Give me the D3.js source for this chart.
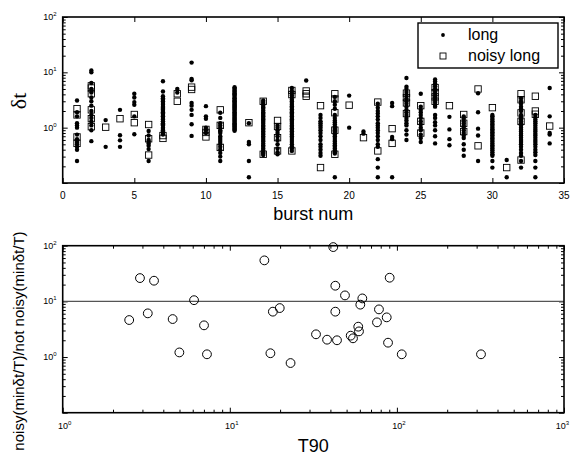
<!DOCTYPE html>
<html>
<head>
<meta charset="utf-8">
<script src="https://cdn.jsdelivr.net/npm/d3@7"></script>
<style>
  body { margin: 0; background: #fff; }
  svg { display: block; font-family: "Liberation Sans", Arial, sans-serif; }
</style>
</head>
<body>
<div id="chart"></div>
<script>
/* ── Top panel: δt per burst (index 0 = burst 1) ── */
const burstNums = d3.range(1, 35);

const longDt = [
  [3.1, 1.9, 1.6, 1.2, 1.1, 1.0, 0.75, 0.62, 0.55, 0.5, 0.45, 0.4, 0.25],
  [10.8, 10, 6.4, 5, 4.3, 3.5, 3.0, 2.5, 2.0, 1.7, 1.5, 1.3, 1.1, 0.9, 0.57],
  [1.37, 0.45],
  [2.1, 0.73, 0.59, 0.45],
  [4.1, 3.5, 2.9, 2.6, 1.6, 0.76],
  [0.87, 0.72, 0.6, 0.56, 0.52, 0.47, 0.41, 0.25],
  [6.9, 4.5, 3.7, 3.4, 3.2, 3.0, 2.8, 2.6, 2.4, 2.3, 2.2, 2.1, 2.0, 1.9, 1.8, 1.7, 1.6, 1.5, 1.4, 1.3, 1.2, 1.15, 1.1, 1.0, 0.95, 0.9, 0.85, 0.8, 0.75],
  [5.0, 4.3],
  [15, 7.6, 7.2, 2.8, 2.5, 2.1, 1.7, 1.15, 0.71],
  [2.45, 1.6, 1.45, 1.0, 0.9, 0.8],
  [1.86, 1.5, 1.2, 1.1, 1.0, 0.9, 0.85, 0.8, 0.7, 0.65, 0.6, 0.55, 0.5, 0.45, 0.4, 0.35, 0.3, 0.25],
  [5.4, 5.1, 4.8, 4.6, 4.4, 4.2, 4.0, 3.8, 3.6, 3.4, 3.3, 3.1, 3.0, 2.85, 2.7, 2.6, 2.5, 2.4, 2.3, 2.2, 2.1, 2.0, 1.9, 1.8, 1.72, 1.64, 1.56, 1.5, 1.44, 1.38, 1.32, 1.26, 1.2, 1.15, 1.1, 1.05, 1.0, 0.96, 0.92, 0.88],
  [1.2, 0.55, 0.5, 0.25, 0.127],
  [3.1, 2.9, 2.7, 2.5, 2.35, 2.2, 2.05, 1.9, 1.8, 1.7, 1.6, 1.5, 1.42, 1.34, 1.26, 1.18, 1.1, 1.04, 0.98, 0.92, 0.86, 0.8, 0.75, 0.7, 0.65, 0.6, 0.56, 0.52, 0.48, 0.45, 0.42, 0.39, 0.36, 0.34, 0.32],
  [1.1, 1.0, 0.9, 0.8, 0.7, 0.6, 0.5, 0.42, 0.36, 0.33],
  [5.2, 4.6, 4.2, 3.8, 3.5, 3.2, 3.0, 2.8, 2.6, 2.45, 2.3, 2.15, 2.0, 1.9, 1.8, 1.7, 1.6, 1.5, 1.42, 1.34, 1.26, 1.18, 1.1, 1.04, 0.98, 0.92, 0.86, 0.8, 0.75, 0.7, 0.65, 0.6, 0.55, 0.5, 0.46, 0.42, 0.38],
  [7.1],
  [1.7, 1.5, 1.3, 1.2, 1.1, 1.0, 0.9, 0.8, 0.7, 0.6, 0.5, 0.45, 0.4, 0.35, 0.31],
  [3.6, 3.0, 2.6, 2.2, 1.7, 1.5, 1.35, 1.25, 1.15, 1.05, 1.0, 0.95, 0.9, 0.85, 0.8, 0.75, 0.7, 0.65, 0.6, 0.56, 0.52, 0.48, 0.45, 0.42, 0.39, 0.36, 0.34, 0.127],
  [3.8, 1.0],
  [0.85, 0.78],
  [2.7, 2.3, 2.0, 1.8, 1.6, 1.4, 1.2, 1.1, 1.0, 0.9, 0.8, 0.7, 0.6, 0.5, 0.45, 0.27, 0.19, 0.127],
  [2.8, 2.45, 0.68, 0.62, 0.127],
  [7.9, 5.5, 5.0, 4.4, 3.9, 3.4, 3.0, 2.7, 2.4, 2.1, 1.9, 1.7, 1.5, 1.35, 1.2, 1.1, 0.9, 0.75, 0.6],
  [4.1, 2.4, 2.1, 1.9, 1.7, 1.5, 1.3, 1.15, 1.0, 0.9, 0.75, 0.65, 0.55],
  [7.4, 6.8, 6.2, 5.6, 5.0, 4.6, 4.2, 3.8, 3.5, 3.2, 2.9, 2.6, 2.4, 1.7, 1.5, 1.25, 1.1, 0.9, 0.7, 0.52],
  [1.57, 0.93, 0.62, 0.48],
  [1.6, 1.45, 1.3, 1.2, 1.1, 1.0, 0.9, 0.8, 0.72, 0.65, 0.5, 0.4, 0.31],
  [4.2, 1.9, 0.96, 0.72, 0.25],
  [1.7, 1.6, 1.5, 1.4, 1.3, 1.22, 1.14, 1.07, 1.0, 0.94, 0.88, 0.83, 0.78, 0.73, 0.68, 0.64, 0.6, 0.56, 0.52, 0.48, 0.45, 0.42, 0.39, 0.36, 0.33, 0.31, 0.25, 0.19],
  [0.26, 0.127],
  [3.4, 3.0, 2.7, 2.4, 2.2, 2.0, 1.7, 1.55, 1.4, 1.3, 1.2, 1.1, 1.0, 0.92, 0.85, 0.78, 0.72, 0.66, 0.6, 0.55, 0.5, 0.45, 0.4, 0.35, 0.31, 0.25, 0.19],
  [1.7, 1.55, 1.4, 1.3, 1.2, 1.1, 1.0, 0.92, 0.85, 0.78, 0.72, 0.66, 0.6, 0.55, 0.5, 0.45, 0.4, 0.36, 0.32, 0.25, 0.19, 0.127],
  [5.2, 1.6, 0.8, 0.75, 0.52]
];

const noisyDt = [
  [2.2, 1.7, 0.68, 0.52],
  [5.7, 5.2, 4.1, 2.1, 1.45, 1.04],
  [1.02],
  [1.45],
  [1.73, 1.23],
  [1.14, 0.63, 0.32],
  [0.72, 0.64],
  [4.1, 3.0],
  [5.4, 4.9],
  [0.93, 0.82, 0.68],
  [2.1, 1.1, 0.44],
  [],
  [1.23],
  [3.0, 0.33],
  [1.35, 1.05, 0.66, 0.38],
  [4.7, 3.96, 0.38],
  [4.6, 4.1, 3.7],
  [2.5, 0.19],
  [4.1, 3.3, 1.86, 0.9, 0.33],
  [2.55],
  [0.66],
  [2.9, 0.38],
  [0.96, 0.52],
  [4.2, 3.5, 2.8, 1.8],
  [2.5, 1.3, 0.8],
  [5.3, 4.3, 3.6, 3.0],
  [2.5],
  [1.73, 1.2, 0.85],
  [5.0, 0.47],
  [2.3],
  [0.19],
  [4.1, 3.2, 1.85, 1.3, 0.26],
  [3.7, 2.0, 1.75],
  [1.07]
];

/* ── Bottom panel: ratio vs T90 ── */
const t90 = [2.5, 2.9, 3.23, 3.52, 4.55, 4.99, 6.11, 7.01, 7.3, 16.1, 17.5, 18.1, 19.9, 23.1,
  41.6, 90.5, 42.8, 48.9, 62.1, 60.4, 42.8, 78.1, 86.9, 76.0, 58.7, 59.3, 32.8, 52.9, 54.6,
  38.2, 43.8, 88.5, 106.9, 318.6];
const ratio = [4.62, 26.2, 6.09, 23.5, 4.81, 1.21, 10.5, 3.71, 1.12, 54.5, 1.17, 6.53, 7.58, 0.78,
  94.4, 26.6, 19.1, 12.8, 11.3, 8.73, 6.53, 7.18, 5.16, 4.2, 3.51, 2.89, 2.56, 2.42, 2.17,
  2.05, 2.0, 1.81, 1.12, 1.12];
const refLine = 10;

const xTicksTop = [0, 5, 10, 15, 20, 25, 30, 35];
const logDecades = [0.1, 1, 10, 100];
const logDecadesX = [1, 10, 100, 1000];

const W = 570, H = 460;
const svg = d3.select('#chart').append('svg').attr('width', W).attr('height', H);

const L = 62.7, R = 564;
const top1 = { t: 17, b: 183 }, top2 = { t: 245.7, b: 412.7 };

const x1 = d3.scaleLinear().domain([0, 35]).range([L, R]);
const y1 = d3.scaleLog().domain([0.1, 100]).range([top1.b, top1.t]);
const x2 = d3.scaleLog().domain([1, 1000]).range([L, R]);
const y2 = d3.scaleLog().domain([0.1, 100]).range([top2.b, top2.t]);

function minorsOf(decades) {
  const out = [];
  decades.slice(0, -1).forEach(d => { for (let k = 2; k <= 9; k++) out.push(d * k); });
  return out;
}

// inward ticks without domain line (frame drawn separately)
function ticks(g, axisMaker, scale, values, size, pos) {
  g.append('g').attr('transform', pos)
    .call(axisMaker(scale).tickValues(values).tickSize(size).tickFormat(''))
    .call(s => s.select('.domain').remove())
    .selectAll('line').attr('stroke', '#000').attr('stroke-width', 1);
}

function pow10Label(g, x, y, exp, anchor) {
  const t = g.append('text').attr('x', x).attr('y', y).attr('text-anchor', anchor)
    .attr('font-size', 9).attr('fill', '#000');
  t.append('tspan').text('10');
  t.append('tspan').attr('dy', -4).attr('font-size', 6).text(exp);
}

function frame(g, t, b) {
  g.append('rect').attr('x', L).attr('y', t).attr('width', R - L).attr('height', b - t)
    .attr('fill', 'none').attr('stroke', '#000').attr('stroke-width', 1.6);
}

/* ═══ Top panel ═══ */
const gt = svg.append('g');

ticks(gt, d3.axisBottom, x1, xTicksTop, -5, `translate(0,${top1.b})`);
ticks(gt, d3.axisTop, x1, xTicksTop, -5, `translate(0,${top1.t})`);
ticks(gt, d3.axisLeft, y1, logDecades, -5, `translate(${L},0)`);
ticks(gt, d3.axisRight, y1, logDecades, -5, `translate(${R},0)`);
ticks(gt, d3.axisLeft, y1, minorsOf(logDecades), -3, `translate(${L},0)`);
ticks(gt, d3.axisRight, y1, minorsOf(logDecades), -3, `translate(${R},0)`);

xTicksTop.forEach(v => gt.append('text').attr('x', x1(v)).attr('y', top1.b + 16)
  .attr('text-anchor', 'middle').attr('font-size', 10).text(v));
logDecades.slice(1).forEach(v => pow10Label(gt, L - 6, y1(v) + 3, Math.round(Math.log10(v)), 'end'));

const longPts = [], noisyPts = [];
burstNums.forEach((n, i) => {
  longDt[i].forEach(v => longPts.push({ n, v }));
  noisyDt[i].forEach(v => noisyPts.push({ n, v }));
});

gt.append('g').selectAll('circle').data(longPts).join('circle')
  .attr('cx', d => x1(d.n)).attr('cy', d => y1(d.v)).attr('r', 2.2).attr('fill', '#000');

gt.append('g').selectAll('rect').data(noisyPts).join('rect')
  .attr('x', d => x1(d.n) - 3.2).attr('y', d => y1(d.v) - 3.2)
  .attr('width', 6.4).attr('height', 6.4)
  .attr('fill', 'none').attr('stroke', '#000').attr('stroke-width', 0.9);

frame(gt, top1.t, top1.b);

gt.append('text').attr('transform', `translate(26,${(top1.t + top1.b) / 2 + 1}) rotate(-90)`)
  .attr('text-anchor', 'middle').attr('font-family', '"Liberation Serif", serif')
  .attr('font-size', 22).text('δt');
gt.append('text').attr('x', (L + R) / 2).attr('y', 220).attr('text-anchor', 'middle')
  .attr('font-size', 18).text('burst num');

// legend
const lg = gt.append('g');
lg.append('rect').attr('x', 418).attr('y', 23).attr('width', 140).attr('height', 45)
  .attr('fill', '#fff').attr('stroke', '#000').attr('stroke-width', 1.4);
lg.append('circle').attr('cx', 443).attr('cy', 35).attr('r', 1.9).attr('fill', '#000');
lg.append('rect').attr('x', 443 - 3).attr('y', 56 - 3).attr('width', 6).attr('height', 6)
  .attr('fill', 'none').attr('stroke', '#000').attr('stroke-width', 0.9);
lg.append('text').attr('x', 468).attr('y', 40).attr('font-size', 16).text('long');
lg.append('text').attr('x', 468).attr('y', 61).attr('font-size', 16).text('noisy long');

/* ═══ Bottom panel ═══ */
const gb = svg.append('g');

ticks(gb, d3.axisBottom, x2, logDecadesX, -5, `translate(0,${top2.b})`);
ticks(gb, d3.axisTop, x2, logDecadesX, -5, `translate(0,${top2.t})`);
ticks(gb, d3.axisBottom, x2, minorsOf(logDecadesX), -3, `translate(0,${top2.b})`);
ticks(gb, d3.axisTop, x2, minorsOf(logDecadesX), -3, `translate(0,${top2.t})`);
ticks(gb, d3.axisLeft, y2, logDecades, -5, `translate(${L},0)`);
ticks(gb, d3.axisRight, y2, logDecades, -5, `translate(${R},0)`);
ticks(gb, d3.axisLeft, y2, minorsOf(logDecades), -3, `translate(${L},0)`);
ticks(gb, d3.axisRight, y2, minorsOf(logDecades), -3, `translate(${R},0)`);

logDecadesX.forEach((v, i) => {
  const last = i === logDecadesX.length - 1;
  pow10Label(gb, last ? W - 1 : x2(v) + 2, top2.b + 16, Math.round(Math.log10(v)), last ? 'end' : 'middle');
});
logDecades.slice(1).forEach(v => pow10Label(gb, L - 6, y2(v) + 3, Math.round(Math.log10(v)), 'end'));

gb.append('line').attr('x1', L).attr('x2', R).attr('y1', y2(refLine)).attr('y2', y2(refLine))
  .attr('stroke', '#555').attr('stroke-width', 1.2);

gb.append('g').selectAll('circle').data(t90.map((t, i) => ({ t, r: ratio[i] }))).join('circle')
  .attr('cx', d => x2(d.t)).attr('cy', d => y2(d.r)).attr('r', 4.4)
  .attr('fill', 'none').attr('stroke', '#000').attr('stroke-width', 1);

frame(gb, top2.t, top2.b);

gb.append('text').attr('transform', `translate(24,341) rotate(-90)`)
  .attr('text-anchor', 'middle').attr('font-size', 15)
  .text('noisy(minδt/T)/not noisy(minδt/T)');
gb.append('text').attr('x', (L + R) / 2).attr('y', 452).attr('text-anchor', 'middle')
  .attr('font-size', 18).text('T90');
</script>
</body>
</html>
